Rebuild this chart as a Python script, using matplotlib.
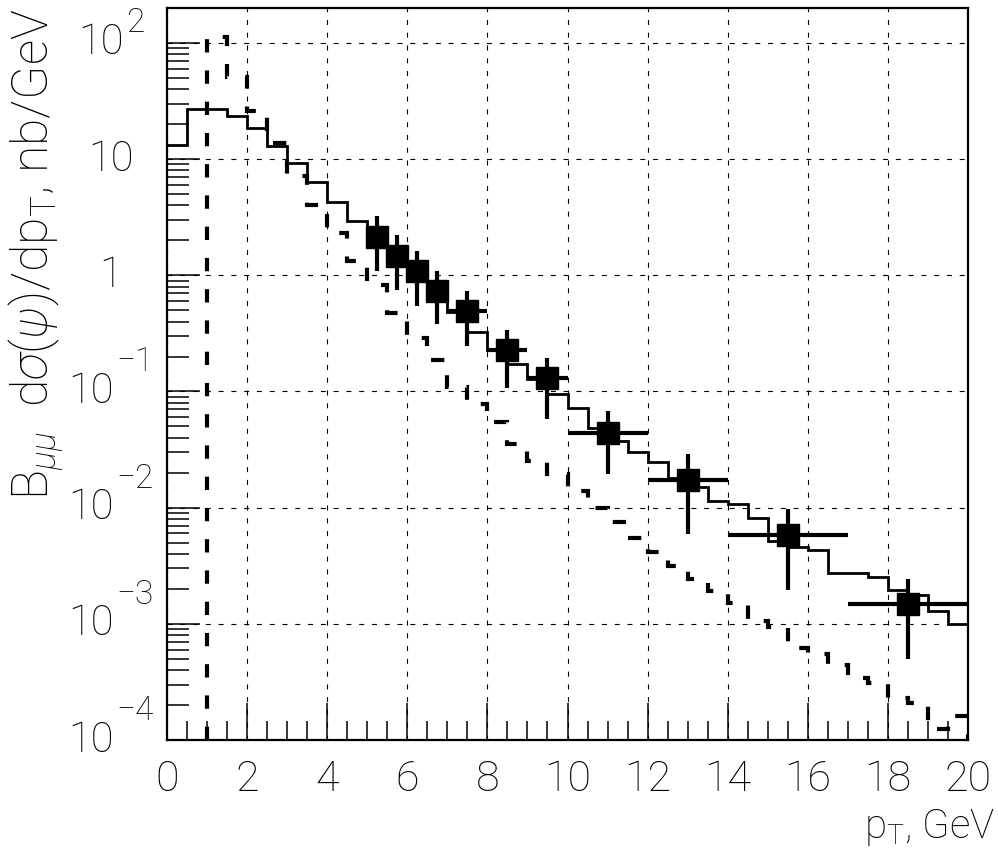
import numpy as np
import matplotlib
matplotlib.use("Agg")
import matplotlib.pyplot as plt
from matplotlib.ticker import MultipleLocator, LogLocator, NullFormatter

# ---------------- data ----------------
bin_width = 0.5
solid_edges = np.arange(0.0, 20.0 + bin_width / 2, bin_width)
solid_vals = [13.2, 27.0, 27.0, 23.5, 18.6, 13.1, 9.2, 6.3, 4.3, 2.92,
              2.1, 1.45, 1.05, 0.68, 0.483, 0.325, 0.226, 0.171, 0.129, 0.0955,
              0.0723, 0.0486, 0.0378, 0.030, 0.0246, 0.018, 0.0152, 0.0115, 0.0108, 0.0081,
              0.0052, 0.00455, 0.00431, 0.00272, 0.00272, 0.00254, 0.00195, 0.00178, 0.00128, 0.00099]

dash_edges = np.arange(1.0, 20.0 + bin_width / 2, bin_width)
dash_vals = [112.0, 51.0, 25.9, 13.8, 7.1, 4.0, 2.3, 1.33, 0.83, 0.473,
             0.286, 0.185, 0.110, 0.0773, 0.0544, 0.0354, 0.0251, 0.0195, 0.0140, 0.0100,
             0.0075, 0.0055, 0.00412, 0.00316, 0.00244, 0.00192, 0.00152, 0.00106, 0.00093, 0.000625,
             0.000555, 0.000443, 0.00034, 0.00031, 0.000232, 0.000208, 0.000124, 0.000161]

pt_x = [5.25, 5.75, 6.25, 6.75, 7.5, 8.5, 9.5, 11.0, 13.0, 15.5, 18.5]
pt_xerr = [0.25, 0.25, 0.25, 0.25, 0.5, 0.5, 0.5, 1.0, 1.0, 1.5, 1.5]
sig = [2.14, 1.46, 1.08, 0.73, 0.49, 0.226, 0.130, 0.044, 0.0174, 0.00585, 0.00148]
sig_lo = [1.09, 0.743, 0.541, 0.378, 0.246, 0.1076, 0.0582, 0.0195, 0.00593, 0.00195, 0.000499]
sig_hi = [3.23, 2.21, 1.62, 1.10, 0.728, 0.34, 0.195, 0.0686, 0.029, 0.00975, 0.00244]

x_ticks = [0, 2, 4, 6, 8, 10, 12, 14, 16, 18, 20]
x_ticklabels = ["0", "2", "4", "6", "8", "10", "12", "14", "16", "18", "20"]
y_ticks = [1e-4, 1e-3, 1e-2, 1e-1, 1, 10, 100]
y_tick_base = ["10", "10", "10", "10", "1", "10", "10"]
y_tick_exp = ["\u22124", "\u22123", "\u22122", "\u22121", "", "", "2"]

xlabel = r"p$_{\rm T}$, GeV"
ylabel = r"B$_{\mu\mu}$  d$\sigma$($\psi$)/dp$_{\rm T}$, nb/GeV"

# ---------------- style ----------------
FONT = "Roboto"
plt.rcParams["font.family"] = [FONT, "DejaVu Sans"]
plt.rcParams["font.weight"] = "light"
plt.rcParams["mathtext.fontset"] = "custom"
plt.rcParams["mathtext.rm"] = FONT + ":weight=light"
plt.rcParams["mathtext.it"] = FONT + ":italic:weight=light"
plt.rcParams["mathtext.sf"] = FONT + ":weight=light"
plt.rcParams["mathtext.fallback"] = "stixsans"

W, H = 998, 852
fig = plt.figure(figsize=(W / 100, H / 100), dpi=100)
L, R, T, B = 167, 968, 8, 740
ax = fig.add_axes([L / W, (H - B) / H, (R - L) / W, (B - T) / H])

ax.set_yscale("log")
ax.set_xlim(0, 20)
ax.set_ylim(1e-4, 200)

ax.grid(True, which="major", color="black", lw=0.8, linestyle=(0, (4.5, 7.0)))

ax.stairs(solid_vals, solid_edges, baseline=None, color="black", lw=2.0, zorder=3)
ax.stairs(dash_vals, dash_edges, baseline=1e-4, color="black", lw=3.0,
          linestyle=(0, (3.2, 4.3)), zorder=3)

sig_a = np.array(sig)
yerr = [sig_a - np.array(sig_lo), np.array(sig_hi) - sig_a]
ax.errorbar(pt_x, sig, xerr=pt_xerr, yerr=yerr, fmt="s", ms=16, color="black",
            mfc="black", mec="black", elinewidth=3.0, capsize=0, zorder=5)

ax.set_xticks(x_ticks, labels=x_ticklabels)
ax.xaxis.set_minor_locator(MultipleLocator(0.5))
ax.set_yticks(y_ticks, labels=[""] * len(y_ticks))
ax.yaxis.set_minor_locator(LogLocator(base=10, subs=np.arange(2, 10)))
ax.yaxis.set_minor_formatter(NullFormatter())

ax.tick_params(axis="x", which="major", direction="in", length=27, width=1.1,
               labelsize=31, pad=14, top=False)
ax.tick_params(axis="x", which="minor", direction="in", length=14, width=1.1, top=False)
ax.tick_params(axis="y", which="major", direction="in", length=24, width=1.1, right=False)
ax.tick_params(axis="y", which="minor", direction="in", length=16, width=1.1, right=False)

for s in ax.spines.values():
    s.set_linewidth(1.6)

# ---- y tick labels drawn as base + raised exponent (ROOT style) ----
renderer = fig.canvas.get_renderer()
BASE_FS, EXP_FS = 30, 24
CENTER = -56  # pixels from the left spine to the label centre


def text_width(s, fs):
    t = fig.text(0, 0, s, fontsize=fs)
    w = t.get_window_extent(renderer).width
    t.remove()
    return w


for val, base, ex in zip(y_ticks, y_tick_base, y_tick_exp):
    wb = text_width(base, BASE_FS)
    if ex:
        we = text_width(ex, EXP_FS)
        gap = 2
        raise_px = 29 if ex.startswith("\u2212") else 20
        base_right = CENTER - (gap + we) / 2 + wb / 2
        ax.annotate(base, xy=(0, val), xycoords=("axes fraction", "data"),
                    xytext=(base_right, 0), textcoords="offset pixels",
                    ha="right", va="center", fontsize=BASE_FS, annotation_clip=False)
        ax.annotate(ex, xy=(0, val), xycoords=("axes fraction", "data"),
                    xytext=(base_right + gap, raise_px), textcoords="offset pixels",
                    ha="left", va="center", fontsize=EXP_FS, annotation_clip=False)
    else:
        ax.annotate(base, xy=(0, val), xycoords=("axes fraction", "data"),
                    xytext=(CENTER, 0), textcoords="offset pixels",
                    ha="center", va="center", fontsize=BASE_FS, annotation_clip=False)

fig.text(36 / W, 1 - 8 / H, ylabel, rotation=90, ha="center", va="top", fontsize=36)
fig.text(995 / W, 4 / H, xlabel, ha="right", va="bottom", fontsize=29)

fig.savefig("out.png", dpi=100)
